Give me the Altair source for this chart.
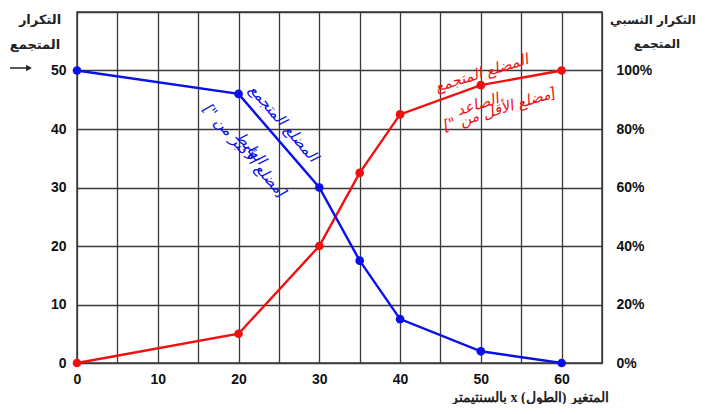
import altair as alt
import pandas as pd

# ---- data ----
x_vals = [0, 20, 30, 35, 40, 50, 60]
less_than = [0, 5, 20, 32.5, 42.5, 47.5, 50]        # ascending cumulative (red)
more_than = [50, 46, 30, 17.5, 7.5, 2, 0]           # descending cumulative (blue)
x_ticks = [0, 10, 20, 30, 40, 50, 60]
y_ticks = [0, 10, 20, 30, 40, 50]

rows = []
for xv, a, b in zip(x_vals, less_than, more_than):
    rows.append({"x": xv, "y": a, "s": "asc"})
    rows.append({"x": xv, "y": b, "s": "desc"})
df = pd.DataFrame(rows)

BLUE = "#0a10e8"
RED = "#f01010"
GRID = "#3a3a3a"
RLE, PDF = "\u202B", "\u202C"

def rtl(s):
    return RLE + s + PDF

xscale = alt.Scale(domain=[0, 65], nice=False)
yscale = alt.Scale(domain=[0, 60], nice=False)
color = alt.Color("s:N", scale=alt.Scale(domain=["asc", "desc"], range=[RED, BLUE]), legend=None)

x_axis = alt.Axis(values=list(range(0, 70, 5)),
                  labelExpr="(datum.value % 10 == 0 && datum.value <= 60) ? datum.value : ''",
                  title=None, grid=True, gridColor=GRID, gridWidth=1.3, gridOpacity=1,
                  ticks=False, domain=False, labelFont="Liberation Sans", labelFontWeight="bold",
                  labelFontSize=14, labelColor="#111", labelPadding=9, labelFlush=False)
y_axis = alt.Axis(values=list(range(0, 70, 10)),
                  labelExpr="datum.value <= 50 ? datum.value : ''",
                  title=None, grid=True, gridColor=GRID, gridWidth=1.3, gridOpacity=1,
                  ticks=False, domain=False, labelFont="Liberation Sans", labelFontWeight="bold",
                  labelFontSize=14, labelColor="#111", labelPadding=11, labelFlush=False)

base = alt.Chart(df)
lines = base.mark_line(strokeWidth=2.4).encode(
    x=alt.X("x:Q", scale=xscale, axis=x_axis),
    y=alt.Y("y:Q", scale=yscale, axis=y_axis),
    color=color, detail="s:N")
pts = base.mark_point(filled=True, size=75, opacity=1).encode(
    x=alt.X("x:Q", scale=xscale), y=alt.Y("y:Q", scale=yscale), color=color)

left = alt.layer(lines, pts)

right = alt.Chart(pd.DataFrame({"y": y_ticks})).mark_point(opacity=0).encode(
    y=alt.Y("y:Q", scale=yscale,
            axis=alt.Axis(orient="right", values=y_ticks, labelExpr="(datum.value*2) + '%'",
                          title=None, grid=False, ticks=False, domain=False,
                          labelFont="Liberation Sans", labelFontWeight="bold",
                          labelFontSize=14, labelColor="#111", labelPadding=14)))

# annotations on lines (data coordinates)
ann = pd.DataFrame([
    {"x": 25.6, "y": 41.0, "t": rtl("المضلع المتجمع"), "a": 49, "c": BLUE},
    {"x": 20.8, "y": 36.3, "t": rtl("[مضلع الأكبر من \"]"), "a": 49, "c": BLUE},
    {"x": 21.5, "y": 36.8, "t": rtl("الهابط"), "a": 49, "c": BLUE},
    {"x": 50.1, "y": 49.6, "t": rtl("المضلع المتجمع"), "a": 343, "c": RED},
    {"x": 52.3, "y": 43.4, "t": rtl("[مضلع الأقل من \"]"), "a": 343, "c": RED},
    {"x": 49.6, "y": 44.2, "t": rtl("الصاعد"), "a": 343, "c": RED},
])
ann_layers = []
for _, r in ann.iterrows():
    ann_layers.append(
        alt.Chart(pd.DataFrame([r])).mark_text(
            font="DejaVu Sans", fontSize=15, fontStyle="italic", color=r["c"], angle=int(r["a"]),
            align="center", baseline="middle").encode(
            x=alt.X("x:Q", scale=xscale), y=alt.Y("y:Q", scale=yscale), text="t:N"))

def label(txt, x, y, size=13, font="DejaVu Sans", weight="bold", align="center", baseline="middle"):
    return alt.Chart(pd.DataFrame({"t": [rtl(txt)]})).mark_text(
        font=font, fontSize=size, fontWeight=weight, color="#222", align=align, baseline=baseline
    ).encode(text="t:N", x=alt.value(x), y=alt.value(y))

texts = [
    label("التكرار", -37, 8),
    label("المتجمع", -42, 33),
    label("التكرار النسبي", 576, 8, size=12),
    label("المتجمع", 580, 32, size=12),
    label("المتغير (الطول) x بالسنتيمتر", 453, 393, size=14, font="Liberation Serif", baseline="bottom"),
]
arrow_line = alt.Chart(pd.DataFrame({"a": [0]})).mark_rule(color="#222", strokeWidth=1.5).encode(
    x=alt.value(-67), x2=alt.value(-50), y=alt.value(56))
arrow_head = alt.Chart(pd.DataFrame({"a": [0]})).mark_point(
    shape="triangle-right", filled=True, color="#222", size=45, opacity=1).encode(
    x=alt.value(-48), y=alt.value(56))

main = alt.layer(left, *ann_layers, *texts, arrow_line, arrow_head)
chart = alt.layer(main, right).resolve_scale(y="independent").properties(
    width=525, height=351, autosize="none",
    padding={"left": 69, "top": 4, "right": 96, "bottom": 41}
).configure_view(stroke=GRID, strokeWidth=1.5)

chart.save("out.html", embed_options={"renderer": "svg", "actions": False})
